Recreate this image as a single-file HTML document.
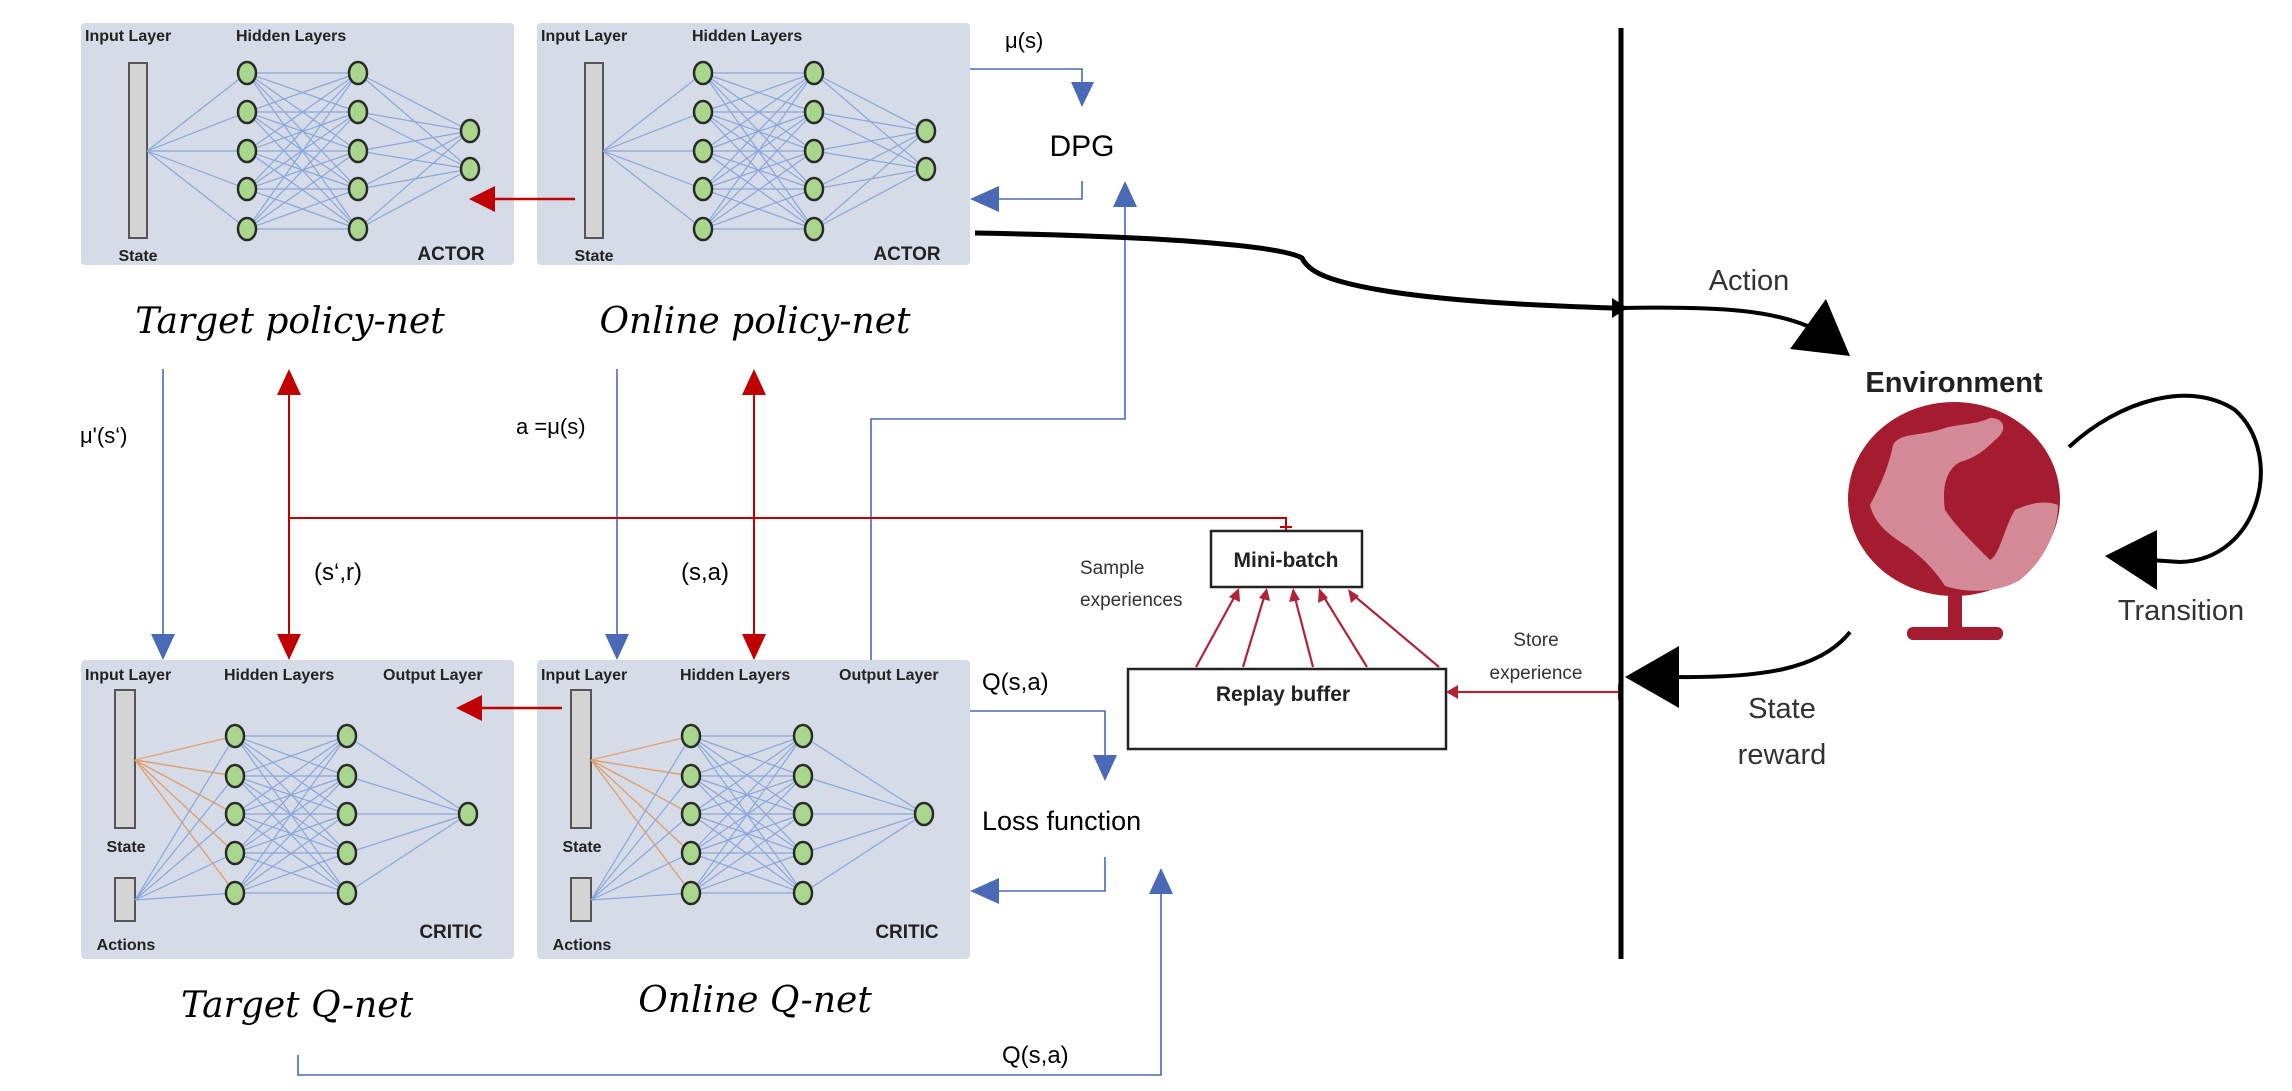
<!DOCTYPE html>
<html><head><meta charset="utf-8"><style>
html,body{margin:0;padding:0;background:#fff;}
svg{display:block;}
.pl{font-family:"Liberation Sans Narrow","Liberation Sans",sans-serif;font-weight:bold;font-size:16px;fill:#222;}
.lab{font-family:"Liberation Sans",sans-serif;font-size:22px;fill:#000;}
.scr{font-family:"DejaVu Serif","Liberation Serif",serif;font-style:italic;font-size:36px;fill:#000;}
.cal{font-family:"Liberation Sans",sans-serif;fill:#333;}
</style></head><body>
<svg width="2292" height="1091" viewBox="0 0 2292 1091" xmlns="http://www.w3.org/2000/svg">
<defs>
<g id="node"><ellipse cx="0" cy="0" rx="9" ry="11" fill="#a8d68c" stroke="#2a2a2a" stroke-width="2.5"/></g>
<g id="actor">
<rect x="0" y="0" width="433" height="242" rx="4" fill="#d5dce8"/>
<text class="pl" x="4" y="18">Input Layer</text>
<text class="pl" x="155" y="18">Hidden Layers</text>
<rect x="48" y="40" width="18" height="175" fill="#d4d4d4" stroke="#555" stroke-width="2"/>
<g stroke="#8aa6dc" stroke-width="1.2">
<line x1="66" y1="128" x2="166" y2="50"/><line x1="66" y1="128" x2="166" y2="89"/><line x1="66" y1="128" x2="166" y2="128"/><line x1="66" y1="128" x2="166" y2="166"/><line x1="66" y1="128" x2="166" y2="206"/>
<line x1="166" y1="50" x2="277" y2="50"/><line x1="166" y1="50" x2="277" y2="89"/><line x1="166" y1="50" x2="277" y2="128"/><line x1="166" y1="50" x2="277" y2="166"/><line x1="166" y1="50" x2="277" y2="206"/>
<line x1="166" y1="89" x2="277" y2="50"/><line x1="166" y1="89" x2="277" y2="89"/><line x1="166" y1="89" x2="277" y2="128"/><line x1="166" y1="89" x2="277" y2="166"/><line x1="166" y1="89" x2="277" y2="206"/>
<line x1="166" y1="128" x2="277" y2="50"/><line x1="166" y1="128" x2="277" y2="89"/><line x1="166" y1="128" x2="277" y2="128"/><line x1="166" y1="128" x2="277" y2="166"/><line x1="166" y1="128" x2="277" y2="206"/>
<line x1="166" y1="166" x2="277" y2="50"/><line x1="166" y1="166" x2="277" y2="89"/><line x1="166" y1="166" x2="277" y2="128"/><line x1="166" y1="166" x2="277" y2="166"/><line x1="166" y1="166" x2="277" y2="206"/>
<line x1="166" y1="206" x2="277" y2="50"/><line x1="166" y1="206" x2="277" y2="89"/><line x1="166" y1="206" x2="277" y2="128"/><line x1="166" y1="206" x2="277" y2="166"/><line x1="166" y1="206" x2="277" y2="206"/>
<line x1="277" y1="50" x2="389" y2="108"/><line x1="277" y1="89" x2="389" y2="108"/><line x1="277" y1="128" x2="389" y2="108"/><line x1="277" y1="166" x2="389" y2="108"/><line x1="277" y1="206" x2="389" y2="108"/>
<line x1="277" y1="50" x2="389" y2="146"/><line x1="277" y1="89" x2="389" y2="146"/><line x1="277" y1="128" x2="389" y2="146"/><line x1="277" y1="166" x2="389" y2="146"/><line x1="277" y1="206" x2="389" y2="146"/>
</g>
<use href="#node" x="166" y="50"/><use href="#node" x="166" y="89"/><use href="#node" x="166" y="128"/><use href="#node" x="166" y="166"/><use href="#node" x="166" y="206"/>
<use href="#node" x="277" y="50"/><use href="#node" x="277" y="89"/><use href="#node" x="277" y="128"/><use href="#node" x="277" y="166"/><use href="#node" x="277" y="206"/>
<use href="#node" x="389" y="108"/><use href="#node" x="389" y="146"/>
<text class="pl" x="57" y="238" text-anchor="middle">State</text>
<text class="pl" x="370" y="237" text-anchor="middle" style="font-size:19px">ACTOR</text>
</g>
<g id="critic">
<rect x="0" y="0" width="433" height="299" rx="4" fill="#d5dce8"/>
<text class="pl" x="4" y="20">Input Layer</text>
<text class="pl" x="143" y="20">Hidden Layers</text>
<text class="pl" x="302" y="20">Output Layer</text>
<rect x="34" y="30" width="20" height="138" fill="#d4d4d4" stroke="#555" stroke-width="2"/>
<rect x="34" y="218" width="20" height="43" fill="#d4d4d4" stroke="#555" stroke-width="2"/>
<g stroke="#e0a070" stroke-width="1.4">
<line x1="54" y1="100" x2="154" y2="76"/><line x1="54" y1="100" x2="154" y2="116"/><line x1="54" y1="100" x2="154" y2="154"/><line x1="54" y1="100" x2="154" y2="193"/><line x1="54" y1="100" x2="154" y2="233"/>
</g>
<g stroke="#8aa6dc" stroke-width="1.2">
<line x1="54" y1="240" x2="154" y2="76"/><line x1="54" y1="240" x2="154" y2="116"/><line x1="54" y1="240" x2="154" y2="154"/><line x1="54" y1="240" x2="154" y2="193"/><line x1="54" y1="240" x2="154" y2="233"/>
<line x1="154" y1="76" x2="266" y2="76"/><line x1="154" y1="76" x2="266" y2="116"/><line x1="154" y1="76" x2="266" y2="154"/><line x1="154" y1="76" x2="266" y2="193"/><line x1="154" y1="76" x2="266" y2="233"/>
<line x1="154" y1="116" x2="266" y2="76"/><line x1="154" y1="116" x2="266" y2="116"/><line x1="154" y1="116" x2="266" y2="154"/><line x1="154" y1="116" x2="266" y2="193"/><line x1="154" y1="116" x2="266" y2="233"/>
<line x1="154" y1="154" x2="266" y2="76"/><line x1="154" y1="154" x2="266" y2="116"/><line x1="154" y1="154" x2="266" y2="154"/><line x1="154" y1="154" x2="266" y2="193"/><line x1="154" y1="154" x2="266" y2="233"/>
<line x1="154" y1="193" x2="266" y2="76"/><line x1="154" y1="193" x2="266" y2="116"/><line x1="154" y1="193" x2="266" y2="154"/><line x1="154" y1="193" x2="266" y2="193"/><line x1="154" y1="193" x2="266" y2="233"/>
<line x1="154" y1="233" x2="266" y2="76"/><line x1="154" y1="233" x2="266" y2="116"/><line x1="154" y1="233" x2="266" y2="154"/><line x1="154" y1="233" x2="266" y2="193"/><line x1="154" y1="233" x2="266" y2="233"/>
<line x1="266" y1="76" x2="387" y2="154"/><line x1="266" y1="116" x2="387" y2="154"/><line x1="266" y1="154" x2="387" y2="154"/><line x1="266" y1="193" x2="387" y2="154"/><line x1="266" y1="233" x2="387" y2="154"/>
</g>
<use href="#node" x="154" y="76"/><use href="#node" x="154" y="116"/><use href="#node" x="154" y="154"/><use href="#node" x="154" y="193"/><use href="#node" x="154" y="233"/>
<use href="#node" x="266" y="76"/><use href="#node" x="266" y="116"/><use href="#node" x="266" y="154"/><use href="#node" x="266" y="193"/><use href="#node" x="266" y="233"/>
<use href="#node" x="387" y="154"/>
<text class="pl" x="45" y="192" text-anchor="middle">State</text>
<text class="pl" x="45" y="290" text-anchor="middle">Actions</text>
<text class="pl" x="370" y="278" text-anchor="middle" style="font-size:19px">CRITIC</text>
</g>
</defs>

<use href="#actor" x="81" y="23"/>
<use href="#actor" x="537" y="23"/>
<use href="#critic" x="81" y="660"/>
<use href="#critic" x="537" y="660"/>

<!-- red arrows between nets -->
<g stroke="#c00000" stroke-width="2.5" fill="none">
<line x1="575" y1="199" x2="490" y2="199"/>
<line x1="562" y1="708" x2="478" y2="708"/>
</g>
<g fill="#c00000">
<polygon points="469,199 495,186 495,212"/>
<polygon points="456,708 482,695 482,721"/>
</g>

<!-- labels -->
<text class="scr" x="290" y="333" text-anchor="middle">Target policy-net</text>
<text class="scr" x="755" y="333" text-anchor="middle">Online policy-net</text>
<text class="scr" x="297" y="1017" text-anchor="middle">Target Q-net</text>
<text class="scr" x="755" y="1012" text-anchor="middle">Online Q-net</text>

<!-- blue connectors -->
<g stroke="#4a6ab8" stroke-width="1.6" fill="none">
<polyline points="970,69 1082,69 1082,90"/>
<polyline points="1082,181 1082,199 995,199"/>
<polyline points="871,660 871,419 1125,419 1125,205"/>
<line x1="163" y1="369" x2="163" y2="638"/>
<line x1="617" y1="369" x2="617" y2="638"/>
<polyline points="970,711 1105,711 1105,760"/>
<polyline points="1105,857 1105,891 995,891"/>
<polyline points="298,1055 298,1075 1161,1075 1161,890"/>
</g>
<g fill="#4a6ab8">
<polygon points="1082,107 1071,82 1094,82"/>
<polygon points="970,199 999,186 999,212"/>
<polygon points="1125,181 1113,207 1137,207"/>
<polygon points="163,660 151,634 175,634"/>
<polygon points="617,660 605,634 629,634"/>
<polygon points="1105,781 1093,755 1117,755"/>
<polygon points="970,891 999,878 999,904"/>
<polygon points="1161,868 1149,894 1173,894"/>
</g>

<!-- red vertical arrows and minibatch line -->
<g stroke="#c00000" stroke-width="2" fill="none">
<line x1="289" y1="390" x2="289" y2="640"/>
<line x1="754" y1="390" x2="754" y2="640"/>
<polyline points="289,518 1286,518 1286,531"/>
<line x1="1280" y1="527" x2="1292" y2="527"/>
</g>
<g fill="#c00000">
<polygon points="289,369 277,395 301,395"/>
<polygon points="289,660 277,634 301,634"/>
<polygon points="754,369 742,395 766,395"/>
<polygon points="754,660 742,634 766,634"/>
</g>

<!-- text labels -->
<text class="lab" x="1005" y="48">μ(s)</text>
<text class="lab" x="1082" y="156" text-anchor="middle" style="font-size:30px">DPG</text>
<text class="lab" x="80" y="443">μ'(s‘)</text>
<text class="lab" x="516" y="434">a =μ(s)</text>
<text class="lab" x="314" y="580" style="font-size:24px">(s‘,r)</text>
<text class="lab" x="681" y="580" style="font-size:24px">(s,a)</text>
<text class="lab" x="982" y="690" style="font-size:24px">Q(s,a)</text>
<text class="lab" x="982" y="830" style="font-size:27px">Loss function</text>
<text class="lab" x="1002" y="1063" style="font-size:24px">Q(s,a)</text>

<!-- replay / minibatch -->
<rect x="1211" y="531" width="151" height="56" fill="#fff" stroke="#222" stroke-width="2.5"/>
<text class="cal" x="1286" y="567" text-anchor="middle" style="font-weight:bold;font-size:21px;fill:#222">Mini-batch</text>
<rect x="1128" y="669" width="318" height="80" fill="#fff" stroke="#222" stroke-width="2.5"/>
<text class="cal" x="1283" y="701" text-anchor="middle" style="font-weight:bold;font-size:21px;fill:#222">Replay buffer</text>
<text class="cal" x="1080" y="574" style="font-size:19px">Sample</text>
<text class="cal" x="1080" y="606" style="font-size:19px">experiences</text>
<text class="cal" x="1536" y="646" text-anchor="middle" style="font-size:19px">Store</text>
<text class="cal" x="1536" y="679" text-anchor="middle" style="font-size:19px">experience</text>
<g stroke="#b0243a" stroke-width="2.2">
<line x1="1196" y1="667" x2="1236" y2="594"/>
<line x1="1243" y1="667" x2="1265" y2="594"/>
<line x1="1313" y1="667" x2="1294" y2="594"/>
<line x1="1367" y1="667" x2="1322" y2="594"/>
<line x1="1439" y1="667" x2="1352" y2="594"/>
<line x1="1619" y1="692" x2="1455" y2="692"/>
<line x1="1619" y1="684" x2="1619" y2="700"/>
</g>
<g fill="#b0243a">
<polygon points="1239,588 1240,602 1229,597"/>
<polygon points="1267,588 1270,601 1259,598"/>
<polygon points="1293,588 1300,600 1289,602"/>
<polygon points="1319,588 1328,598 1318,603"/>
<polygon points="1348,589 1359,596 1351,603"/>
<polygon points="1446,692 1458,685 1458,699"/>
</g>

<!-- black vertical line -->
<line x1="1621" y1="28" x2="1621" y2="959" stroke="#000" stroke-width="5"/>
<!-- action curve -->
<path d="M975,233 C1150,236 1280,245 1302,258 C1308,270 1322,280 1380,290 C1450,302 1550,306 1612,308" stroke="#000" stroke-width="5" fill="none"/>
<polygon points="1628,308 1612,298 1612,318" fill="#000"/>
<path d="M1622,308 C1720,306 1780,310 1820,332" stroke="#000" stroke-width="4" fill="none"/>
<polygon points="1850,356 1790,349 1826,299" fill="#000"/>
<text class="cal" x="1749" y="290" text-anchor="middle" style="font-size:29px">Action</text>

<!-- environment -->
<text class="cal" x="1954" y="392" text-anchor="middle" style="font-weight:bold;font-size:29px;fill:#222">Environment</text>
<ellipse cx="1954" cy="499" rx="106" ry="97" fill="#a51c30"/>
<path d="M1870,505 C1878,490 1888,470 1893,445 C1900,432 1920,437 1945,428 C1958,424 1975,425 1990,418 C2005,418 2008,430 1995,440 C1985,450 1975,458 1960,462 C1945,470 1942,490 1945,510 C1955,525 1970,540 1990,560 C2000,555 2005,525 2015,510 C2030,503 2045,500 2058,505 C2058,530 2045,560 2020,580 C2000,592 1970,594 1945,586 C1935,570 1920,555 1905,545 C1890,535 1875,525 1870,505 Z" fill="#d48a96"/>
<rect x="1948" y="594" width="14" height="34" fill="#a51c30"/>
<rect x="1907" y="627" width="96" height="13" rx="6" fill="#a51c30"/>

<!-- transition loop -->
<path d="M2069,447 C2120,400 2190,380 2235,410 C2285,455 2260,560 2180,562 L2150,560" stroke="#000" stroke-width="4" fill="none"/>
<polygon points="2105,556 2157,530 2157,590" fill="#000"/>
<text class="cal" x="2181" y="620" text-anchor="middle" style="font-size:29px">Transition</text>

<!-- state reward -->
<path d="M1850,632 C1820,670 1760,678 1675,677" stroke="#000" stroke-width="4" fill="none"/>
<polygon points="1625,677 1679,646 1679,708" fill="#000"/>
<text class="cal" x="1782" y="718" text-anchor="middle" style="font-size:29px">State</text>
<text class="cal" x="1782" y="764" text-anchor="middle" style="font-size:29px">reward</text>
</svg>
</body></html>
